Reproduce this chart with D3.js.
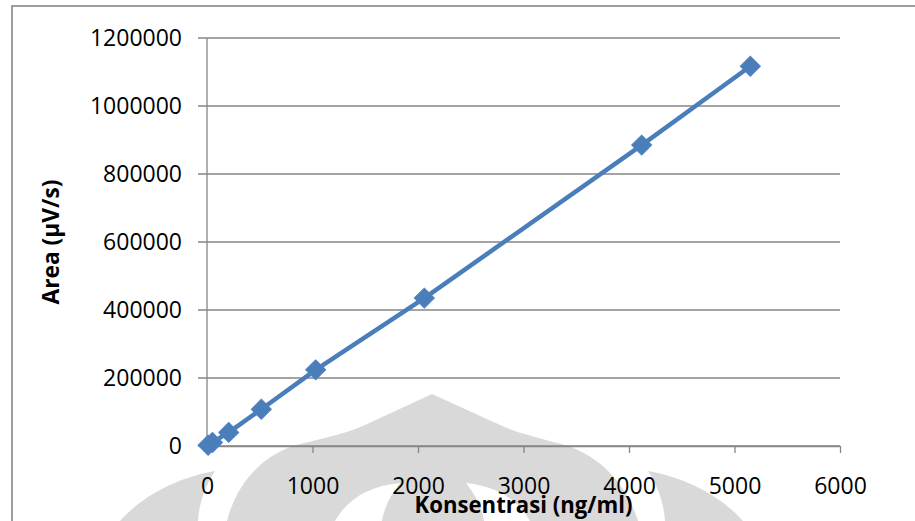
<!DOCTYPE html>
<html>
<head>
<meta charset="utf-8">
<script src="https://cdn.jsdelivr.net/npm/d3@7"></script>
<style>
  html, body { margin: 0; padding: 0; background: #fff; overflow: hidden; }
  svg { display: block; }
</style>
</head>
<body>
<div id="chart"></div>
<script>
// calibration data
const konsentrasi = [10.3, 51.5, 206, 515, 1030, 2060, 4120, 5150];
const area = [2100, 10500, 40000, 108000, 224000, 435000, 885000, 1117000];
const xTicks = [0, 1000, 2000, 3000, 4000, 5000, 6000];
const yTicks = [0, 200000, 400000, 600000, 800000, 1000000, 1200000];

const W = 915, H = 521;
const plot = { left: 207, right: 840, top: 38, bottom: 446 };
const gridColor = "#868686";
const lineColor = "#4a7ebb";
const fontFam = "'Open Sans', 'Noto Sans', sans-serif";

const svg = d3.select("#chart").append("svg")
    .attr("width", W)
    .attr("height", H);

// watermark (faint logo behind the chart)
const wm = svg.append("g").attr("class", "watermark");
wm.append("path")
    .attr("d", "M120,521 C140,498 175,478 215,471 C204,488 199,505 198,521 Z")
    .attr("fill", "#d9d9d9");
wm.append("path")
    .attr("d", "M743,521 C723,498 688,478 648,471 C659,488 664,505 665,521 Z")
    .attr("fill", "#d9d9d9");
wm.append("path")
    .attr("d", "M227,521 C238,478 268,452 300,444 C330,437 350,432 365,425 L432,394 L500,425 C515,432 535,437 565,445 C597,455 625,480 638,521 Z")
    .attr("fill", "#d9d9d9");
wm.append("path")
    .attr("d", "M335,521 C348,498 370,486 400,483 C390,496 384,508 382,521 Z")
    .attr("fill", "#fff");
wm.append("path")
    .attr("d", "M530,521 C517,498 495,486 466,483 C476,496 482,508 484,521 Z")
    .attr("fill", "#fff");

// outer chart border
svg.append("rect")
    .attr("x", 12).attr("y", 6)
    .attr("width", 1000).attr("height", 700)
    .attr("fill", "none")
    .attr("stroke", gridColor)
    .attr("stroke-width", 1.6);

const x = d3.scaleLinear().domain([0, 6000]).range([plot.left, plot.right]);
const y = d3.scaleLinear().domain([0, 1200000]).range([plot.bottom, plot.top]);

// horizontal gridlines
svg.append("g")
    .selectAll("line")
    .data(yTicks)
    .enter().append("line")
    .attr("x1", plot.left - 9)
    .attr("x2", plot.right)
    .attr("y1", d => y(d))
    .attr("y2", d => y(d))
    .attr("stroke", gridColor)
    .attr("stroke-width", 1.3);

// y axis labels
const yAxis = svg.append("g")
    .attr("transform", `translate(${plot.left - 9},0)`)
    .call(d3.axisLeft(y).tickValues(yTicks).tickSize(0).tickPadding(16).tickFormat(d3.format("d")));
yAxis.select(".domain").remove();
yAxis.selectAll("text")
    .style("font-family", fontFam)
    .style("font-size", "23px")
    .attr("fill", "#000");

// y axis line
svg.append("line")
    .attr("x1", plot.left).attr("x2", plot.left)
    .attr("y1", y(1200000)).attr("y2", y(0))
    .attr("stroke", gridColor)
    .attr("stroke-width", 1.3);

// x axis
const xAxis = svg.append("g")
    .attr("transform", `translate(0,${plot.bottom})`)
    .call(d3.axisBottom(x).tickValues(xTicks).tickSize(7).tickSizeOuter(0).tickPadding(25).tickFormat(d3.format("d")));
xAxis.select(".domain").attr("stroke", gridColor).attr("stroke-width", 1.3);
xAxis.selectAll(".tick line").attr("stroke", gridColor).attr("stroke-width", 1.3);
xAxis.selectAll("text")
    .style("font-family", fontFam)
    .style("font-size", "23px")
    .attr("fill", "#000");

// axis titles
svg.append("text")
    .attr("x", (plot.left + plot.right) / 2)
    .attr("y", 513)
    .attr("text-anchor", "middle")
    .attr("textLength", 218)
    .attr("lengthAdjust", "spacingAndGlyphs")
    .style("font-family", fontFam)
    .style("font-size", "23px")
    .style("font-weight", "700")
    .text("Konsentrasi (ng/ml)");

svg.append("text")
    .attr("transform", `translate(59,${(plot.top + plot.bottom) / 2}) rotate(-90)`)
    .attr("text-anchor", "middle")
    .attr("textLength", 125)
    .attr("lengthAdjust", "spacingAndGlyphs")
    .style("font-family", fontFam)
    .style("font-size", "23px")
    .style("font-weight", "700")
    .text("Area (µV/s)");

// series line
const pts = konsentrasi.map((k, i) => [k, area[i]]);
svg.append("path")
    .datum(pts)
    .attr("d", d3.line().x(d => x(d[0])).y(d => y(d[1])))
    .attr("fill", "none")
    .attr("stroke", lineColor)
    .attr("stroke-width", 4.5)
    .attr("stroke-linejoin", "round");

// diamond markers
svg.append("g")
    .selectAll("path")
    .data(pts)
    .enter().append("path")
    .attr("d", d3.symbol().type(d3.symbolSquare).size(200))
    .attr("transform", d => `translate(${x(d[0])},${y(d[1])}) rotate(45)`)
    .attr("fill", lineColor)
    .attr("stroke", "#4f81bd")
    .attr("stroke-width", 1);
</script>
</body>
</html>
